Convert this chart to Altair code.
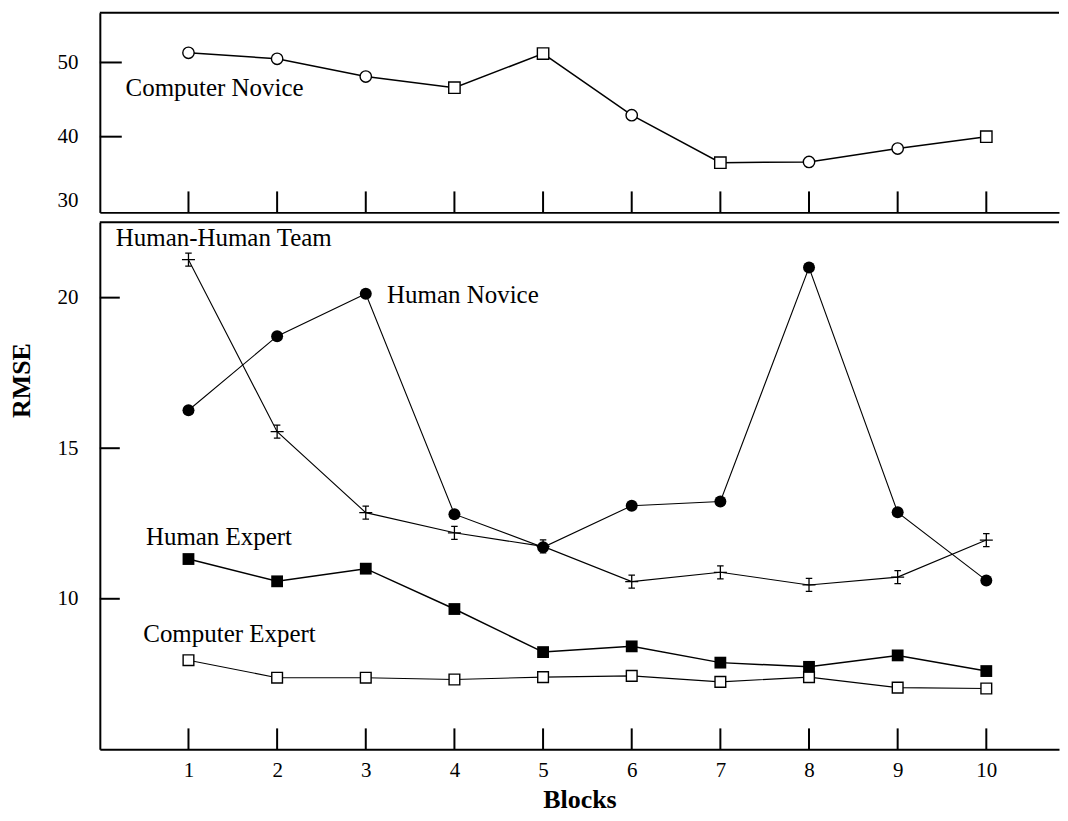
import altair as alt
import pandas as pd

# ---------------- data ----------------
blocks = [1, 2, 3, 4, 5, 6, 7, 8, 9, 10]
computer_novice = [51.3, 50.5, 48.1, 46.6, 51.2, 42.9, 36.5, 36.6, 38.4, 40.0]
cn_marker = ["circle", "circle", "circle", "square", "square",
             "circle", "square", "circle", "circle", "square"]
human_team = [21.26, 15.55, 12.86, 12.19, 11.74, 10.57, 10.88, 10.46, 10.72, 11.95]
human_novice = [16.26, 18.72, 20.13, 12.81, 11.71, 13.09, 13.23, 21.0, 12.87, 10.61]
human_expert = [11.32, 10.58, 11.0, 9.66, 8.23, 8.42, 7.88, 7.74, 8.12, 7.60]
computer_expert = [7.96, 7.38, 7.38, 7.32, 7.40, 7.44, 7.24, 7.40, 7.05, 7.02]

top_labels = [30, 40, 50]
top_tick_values = [40, 50]
bottom_labels = [10, 15, 20]

top_notes = ["Computer Novice"]
top_notes_x = [0.29]
top_notes_y = [45.5]
bottom_notes = ["Human-Human Team", "Human Novice", "Human Expert", "Computer Expert"]
bottom_notes_x = [0.18, 3.24, 0.52, 0.49]
bottom_notes_y = [21.7, 19.81, 11.80, 8.56]

# ---------------- style ----------------
FONT = "Liberation Serif"
W = 961
H_TOP = 200
H_BOT = 528
X_DOMAIN = [0, 10.82]
TOP_DOMAIN = [29.8, 56.7]
BOT_DOMAIN = [5, 22.5]
CROSS = "M0,-1L0,1M-1,0L1,0M-0.5,-1L0.5,-1M-0.5,1L0.5,1"

xscale = alt.Scale(domain=X_DOMAIN, nice=False, zero=False)


def xenc(field, axis):
    return alt.X(field, type="quantitative", scale=xscale, axis=axis)


x_axis_top = alt.Axis(labels=False, ticks=False, tickSize=0, grid=False, title=None,
                      domainColor="black", domainWidth=2)
x_axis_bot = alt.Axis(values=blocks, ticks=False, tickSize=0, grid=False, title="Blocks",
                      domainColor="black", domainWidth=2, labelFont=FONT, labelFontSize=21,
                      labelColor="black", labelPadding=10, titleFont=FONT, titleFontSize=26,
                      titleFontWeight="bold", titleColor="black", titlePadding=6)

y_axis_top = alt.Axis(values=top_labels, ticks=False, tickSize=0, grid=False, title=None,
                      domainColor="black", domainWidth=2, labelFont=FONT, labelFontSize=21,
                      labelColor="black", labelPadding=22, labelFlush=5)
y_axis_bot = alt.Axis(values=bottom_labels, ticks=False, tickSize=0, grid=False, title="RMSE",
                      domainColor="black", domainWidth=2, labelFont=FONT, labelFontSize=21,
                      labelColor="black", labelPadding=22, titleFont=FONT, titleFontSize=26,
                      titleFontWeight="bold", titleColor="black", titleAngle=270,
                      titleBaseline="bottom", titleAlign="center", titleX=-65, titleY=158)

top_scale = alt.Scale(domain=TOP_DOMAIN, nice=False, zero=False)
bot_scale = alt.Scale(domain=BOT_DOMAIN, nice=False, zero=False)

# ---------------- top panel ----------------
cn_df = pd.DataFrame({"block": blocks, "value": computer_novice, "marker": cn_marker})
ytop = alt.Y("value:Q", scale=top_scale, axis=y_axis_top)

top_line = alt.Chart(cn_df).mark_line(color="black", strokeWidth=1.5).encode(
    x=xenc("block", x_axis_top), y=ytop)
top_pts = alt.Chart(cn_df).mark_point(filled=True, fill="white", stroke="black",
                                      strokeWidth=1.4, size=130, opacity=1).encode(
    x=xenc("block", x_axis_top), y=ytop,
    shape=alt.Shape("marker:N", scale=None))
top_xticks = alt.Chart(pd.DataFrame({"block": blocks})).mark_rule(
    color="black", strokeWidth=2).encode(
    x=xenc("block", x_axis_top), y=alt.value(H_TOP - 21), y2=alt.value(H_TOP))
top_yticks = alt.Chart(pd.DataFrame({"value": top_tick_values})).mark_rule(
    color="black", strokeWidth=2).encode(
    y=ytop, x=alt.value(0), x2=alt.value(22))
top_border = alt.Chart(pd.DataFrame({"value": [0]})).mark_rule(
    color="black", strokeWidth=2).encode(
    x=alt.value(0), x2=alt.value(W), y=alt.value(0))
top_text = alt.Chart(pd.DataFrame({"label": top_notes, "block": top_notes_x,
                                   "value": top_notes_y})).mark_text(
    align="left", baseline="alphabetic", font=FONT, fontSize=25, color="black").encode(
    x=xenc("block", x_axis_top), y=ytop, text="label:N")

top = alt.layer(top_border, top_xticks, top_yticks, top_line, top_pts, top_text).properties(
    width=W, height=H_TOP)

# ---------------- bottom panel ----------------
ybot = alt.Y("value:Q", scale=bot_scale, axis=y_axis_bot)


def series(values, width):
    df = pd.DataFrame({"block": blocks, "value": values})
    line = alt.Chart(df).mark_line(color="black", strokeWidth=width).encode(
        x=xenc("block", x_axis_bot), y=ybot)
    return df, line


hht_df, hht_line = series(human_team, 1.1)
hn_df, hn_line = series(human_novice, 1.1)
he_df, he_line = series(human_expert, 1.5)
ce_df, ce_line = series(computer_expert, 1.1)

hht_pts = alt.Chart(hht_df).mark_point(shape=CROSS, filled=False, stroke="black",
                                       strokeWidth=1.3, size=170, opacity=1).encode(
    x=xenc("block", x_axis_bot), y=ybot)
hn_pts = alt.Chart(hn_df).mark_point(shape="circle", filled=True, fill="black",
                                     size=144, opacity=1).encode(
    x=xenc("block", x_axis_bot), y=ybot)
he_pts = alt.Chart(he_df).mark_point(shape="square", filled=True, fill="black",
                                     size=140, opacity=1).encode(
    x=xenc("block", x_axis_bot), y=ybot)
ce_pts = alt.Chart(ce_df).mark_point(shape="square", filled=True, fill="white",
                                     stroke="black", strokeWidth=1.4, size=115,
                                     opacity=1).encode(
    x=xenc("block", x_axis_bot), y=ybot)

bot_xticks = alt.Chart(pd.DataFrame({"block": blocks})).mark_rule(
    color="black", strokeWidth=2).encode(
    x=xenc("block", x_axis_bot), y=alt.value(H_BOT - 21), y2=alt.value(H_BOT))
bot_yticks = alt.Chart(pd.DataFrame({"value": bottom_labels})).mark_rule(
    color="black", strokeWidth=2).encode(
    y=ybot, x=alt.value(0), x2=alt.value(20))
bot_border = alt.Chart(pd.DataFrame({"value": [0]})).mark_rule(
    color="black", strokeWidth=2).encode(
    x=alt.value(0), x2=alt.value(W), y=alt.value(0))
bot_text = alt.Chart(pd.DataFrame({"label": bottom_notes, "block": bottom_notes_x,
                                   "value": bottom_notes_y})).mark_text(
    align="left", baseline="alphabetic", font=FONT, fontSize=25, color="black").encode(
    x=xenc("block", x_axis_bot), y=ybot, text="label:N")

bottom = alt.layer(bot_border, bot_xticks, bot_yticks,
                   ce_line, he_line, hn_line, hht_line,
                   ce_pts, he_pts, hn_pts, hht_pts, bot_text).properties(
    width=W, height=H_BOT)

chart = alt.vconcat(top, bottom, spacing=8).properties(
    padding={"left": 1, "top": 3, "right": 0, "bottom": 0}
).configure(background="white").configure_view(stroke=None)

chart.save("out.html", embed_options={"renderer": "svg", "actions": False})
